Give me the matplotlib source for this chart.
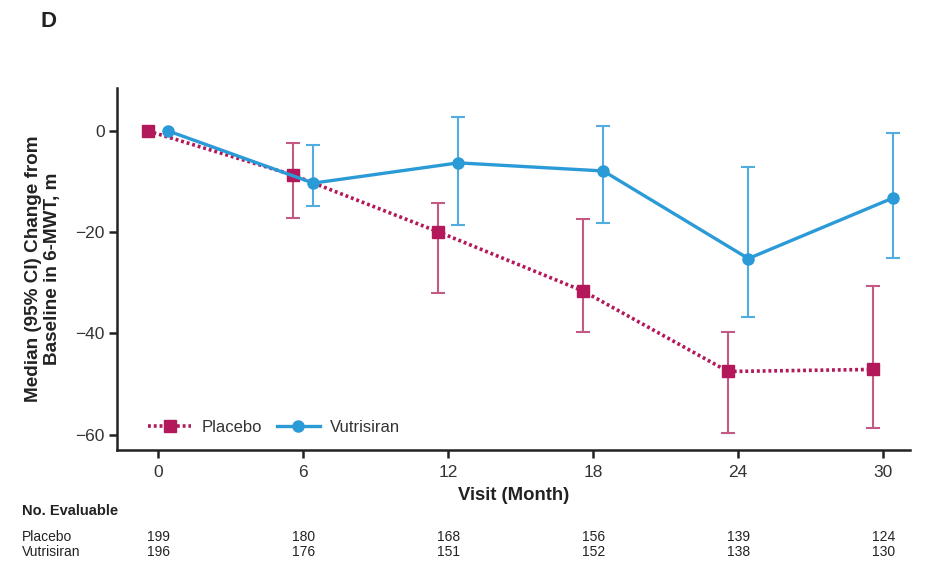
import matplotlib
matplotlib.use("Agg")
import matplotlib.pyplot as plt
import matplotlib.transforms as mtransforms
import numpy as np

plt.rcParams['font.family'] = ['Liberation Sans', 'DejaVu Sans']

months = [0, 6, 12, 18, 24, 30]
placebo_med = [0, -8.7, -19.9, -31.6, -47.5, -47.1]
placebo_lo = [0, -17.2, -32.0, -39.8, -59.6, -58.6]
placebo_hi = [0, -2.4, -14.2, -17.4, -39.8, -30.6]
vut_med = [0, -10.3, -6.3, -7.9, -25.2, -13.2]
vut_lo = [0, -14.8, -18.5, -18.1, -36.7, -25.0]
vut_hi = [0, -2.8, 2.8, 1.0, -7.1, -0.4]
placebo_n = [199, 180, 168, 156, 139, 124]
vut_n = [196, 176, 151, 152, 138, 130]
yticks = [0, -20, -40, -60]

c_pla = '#B3185A'
c_pla_err = '#C35A84'
c_vut = '#2B9BD8'
c_vut_err = '#52ACDF'

fig = plt.figure(figsize=(9.36, 5.71), dpi=100)
ax = fig.add_axes([0.125, 0.212, 0.847, 0.634])

x = np.array(months, dtype=float)
off = 0.42
pm = np.array(placebo_med); vm = np.array(vut_med)
p_err = [pm - np.array(placebo_lo), np.array(placebo_hi) - pm]
v_err = [vm - np.array(vut_lo), np.array(vut_hi) - vm]

# error bars (skip baseline)
ax.errorbar(x[1:] - off, pm[1:], yerr=[p_err[0][1:], p_err[1][1:]], fmt='none',
            ecolor=c_pla_err, elinewidth=1.5, capsize=5, capthick=1.5, zorder=2)
ax.errorbar(x[1:] + off, vm[1:], yerr=[v_err[0][1:], v_err[1][1:]], fmt='none',
            ecolor=c_vut_err, elinewidth=1.5, capsize=5, capthick=1.5, zorder=2)

ax.plot(x - off, pm, linestyle=(0, (0.8, 0.8)), color=c_pla, linewidth=2.6,
        marker='s', markersize=8, markerfacecolor=c_pla, markeredgecolor=c_pla,
        label='Placebo', zorder=3)
ax.plot(x + off, vm, linestyle='-', color=c_vut, linewidth=2.4,
        marker='o', markersize=8, markerfacecolor=c_vut, markeredgecolor=c_vut,
        label='Vutrisiran', zorder=4)

ax.set_xlim(-1.7, 31.1)
ax.set_ylim(-63, 8.5)
ax.set_xticks(months)
ax.set_xticklabels([str(m) for m in months])
ax.set_yticks(yticks)
ax.set_yticklabels(['0', '\u221220', '\u221240', '\u221260'])
ax.tick_params(axis='both', labelsize=12.5, width=1.8, length=6, direction='out',
               colors='#222222', labelcolor='#333333')
ax.tick_params(axis='x', pad=5)
ax.tick_params(axis='y', pad=3)
for s in ['top', 'right']:
    ax.spines[s].set_visible(False)
for s in ['left', 'bottom']:
    ax.spines[s].set_linewidth(1.8)
    ax.spines[s].set_color('#222222')

ax.set_xlabel('Visit (Month)', fontsize=13.3, fontweight='bold', labelpad=5,
              color='#222222')
ax.set_ylabel('Median (95% CI) Change from\nBaseline in 6-MWT, m', fontsize=13.6,
              fontweight='bold', labelpad=10, color='#222222')

leg = ax.legend(loc='lower left', bbox_to_anchor=(0.02, 0.0), ncol=2, frameon=False,
                fontsize=12, handlelength=2.6, columnspacing=0.9, handletextpad=0.6)
for t in leg.get_texts():
    t.set_color('#333333')

fig.text(0.043, 0.962, 'D', fontsize=16, fontweight='bold', va='center', ha='left',
         color='#222222')

trans = mtransforms.blended_transform_factory(ax.transData, fig.transFigure)
fig.text(0.023, 0.105, 'No. Evaluable', fontsize=10.5, fontweight='bold', va='center',
         color='#222222')
fig.text(0.023, 0.060, 'Placebo', fontsize=10, va='center', color='#222222')
fig.text(0.023, 0.033, 'Vutrisiran', fontsize=10, va='center', color='#222222')
for m, pn, vn in zip(months, placebo_n, vut_n):
    ax.text(m, 0.060, str(pn), transform=trans, fontsize=10, ha='center', va='center',
            color='#222222')
    ax.text(m, 0.033, str(vn), transform=trans, fontsize=10, ha='center', va='center',
            color='#222222')

fig.savefig('out.png', dpi=100)
